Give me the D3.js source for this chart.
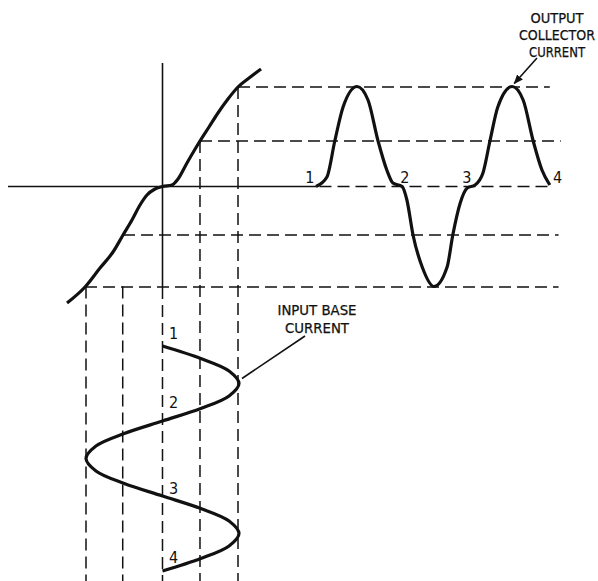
<!DOCTYPE html>
<html>
<head>
<meta charset="utf-8">
<script src="https://cdn.jsdelivr.net/npm/d3@7"></script>
<style>
  html, body { margin: 0; padding: 0; background: #fff; }
  svg text {
    font-family: "Liberation Sans Narrow", "DejaVu Sans Condensed", "Arial Narrow", sans-serif;
    font-size: 16px;
    fill: #111;
  }
  svg text.title { font-size: 14.5px; stroke: #111; stroke-width: 0.25px; }
</style>
</head>
<body>
<div id="chart"></div>
<script>
// transfer characteristic: base current (ib) -> collector current (ic)
var transferCurve = [
    [-1.248, -1.165], [-1.013, -1.005], [-0.817, -0.815], [-0.647, -0.655],
    [-0.516, -0.485], [-0.399, -0.335], [-0.294, -0.185], [-0.203, -0.085],
    [-0.098, -0.025], [0, 0], [0.124, 0.015], [0.203, 0.075],
    [0.32, 0.235], [0.49, 0.455], [0.608, 0.595], [0.725, 0.735],
    [0.856, 0.875], [0.987, 0.995], [1.131, 1.085], [1.288, 1.175]
];

// input base current, phase in degrees vs ib
var inputPhase = [0, 30, 60, 90, 120, 150, 180, 210, 240, 270, 300, 330, 360, 390, 420, 450, 480, 510, 540];
var inputBase  = [0, 0.5, 0.87, 1, 0.87, 0.5, 0, -0.5, -0.87, -1, -0.87, -0.5, 0, 0.5, 0.87, 1, 0.87, 0.5, 0];

// output collector current, phase in degrees vs ic
var outputPhase = [0, 25, 43, 62, 94, 119, 142, 162, 176, 197, 208, 222, 243, 270,
    300, 313, 330, 346, 364, 382, 398, 416, 449, 474, 497, 517, 535];
var outputCollector = [0, 0.095, 0.455, 0.795, 1.0, 0.865, 0.455, 0.165, 0.035, 0, -0.135, -0.485, -0.805, -1,
    -0.805, -0.485, -0.165, -0.015, 0.015, 0.135, 0.455, 0.795, 1.0, 0.865, 0.455, 0.165, 0.015];

// projection guides
var guideIb = [-1, -0.52, 0, 0.49, 0.987];       // vertical dashed lines
var guideIbTop = [-1, -1, -1, 0.455, 0.995];     // ic level where each starts
var guideIc = [0.995, 0.455, 0, -0.485, -1.005]; // horizontal dashed lines
var guideIcFrom = [0.987, 0.49, null, -0.516, -1.013]; // ib where each starts (null: output start)
var guideIcTo = [535, 560, 535, 555, 555];       // phase where each ends

var outputLabels = ['1', '2', '3', '4'];
var outputLabelPhase = [-14, 203, 345, 553];
var inputLabels = ['1', '2', '3', '4'];
var inputLabelPhase = [-31, 135, 340, 507];

var outTitleLines = ['OUTPUT', 'COLLECTOR', 'CURRENT'];
var outTitleWidths = [53, 76, 56];
var inTitleLines = ['INPUT BASE', 'CURRENT'];
var inTitleWidths = [79, 64];

var width = 598, height = 581;

var svg = d3.select('#chart')
    .append('svg')
    .attr('width', width)
    .attr('height', height);

svg.append('rect').attr('width', width).attr('height', height).attr('fill', '#fff');

var xB = d3.scaleLinear().domain([-1, 1]).range([86, 239]);
var yC = d3.scaleLinear().domain([-1, 1]).range([286.5, 86.5]);
var xT = d3.scaleLinear().domain([0, 540]).range([316, 552]);
var yT = d3.scaleLinear().domain([0, 540]).range([346, 571]);

var ink = '#111';

// dashed guides
var guides = svg.append('g')
    .attr('stroke', ink)
    .attr('stroke-width', 1.5)
    .attr('stroke-dasharray', '12,6')
    .attr('fill', 'none');

guideIb.forEach(function(ib, i) {
    guides.append('line')
        .attr('x1', xB(ib)).attr('x2', xB(ib))
        .attr('y1', ib === 0 ? yC(-1.005) : yC(guideIbTop[i]))
        .attr('y2', height);
});

guideIc.forEach(function(ic, i) {
    var from = guideIcFrom[i] === null ? xT(8) : xB(guideIcFrom[i]);
    guides.append('line')
        .attr('x1', from).attr('x2', xT(guideIcTo[i]))
        .attr('y1', yC(ic)).attr('y2', yC(ic));
});

// solid axes
svg.append('line')
    .attr('x1', 8).attr('x2', xT(0))
    .attr('y1', yC(0)).attr('y2', yC(0))
    .attr('stroke', ink).attr('stroke-width', 1.6);

svg.append('line')
    .attr('x1', xB(0)).attr('x2', xB(0))
    .attr('y1', 63).attr('y2', yC(-1.005))
    .attr('stroke', ink).attr('stroke-width', 1.6);

// curves
var transferLine = d3.line()
    .x(function(d) { return xB(d[0]); })
    .y(function(d) { return yC(d[1]); })
    .curve(d3.curveMonotoneX);

svg.append('path')
    .datum(transferCurve)
    .attr('d', transferLine)
    .attr('fill', 'none').attr('stroke', ink).attr('stroke-width', 3.2);

var inputLine = d3.line()
    .x(function(d, i) { return xB(inputBase[i]); })
    .y(function(d) { return yT(d); })
    .curve(d3.curveCatmullRom);

svg.append('path')
    .datum(inputPhase)
    .attr('d', inputLine)
    .attr('fill', 'none').attr('stroke', ink).attr('stroke-width', 3.2);

var outputLine = d3.line()
    .x(function(d) { return xT(d); })
    .y(function(d, i) { return yC(outputCollector[i]); })
    .curve(d3.curveMonotoneX);

svg.append('path')
    .datum(outputPhase)
    .attr('d', outputLine)
    .attr('fill', 'none').attr('stroke', ink).attr('stroke-width', 3.2);

// numbered points
svg.selectAll('.out-label')
    .data(outputLabels)
    .enter().append('text')
    .attr('x', function(d, i) { return xT(outputLabelPhase[i]); })
    .attr('y', yC(0) - 4)
    .attr('text-anchor', 'middle')
    .text(function(d) { return d; });

svg.selectAll('.in-label')
    .data(inputLabels)
    .enter().append('text')
    .attr('x', xB(0) + 11)
    .attr('y', function(d, i) { return yT(inputLabelPhase[i]) + 6; })
    .attr('text-anchor', 'middle')
    .text(function(d) { return d; });

// callouts
svg.selectAll('.out-title')
    .data(outTitleLines)
    .enter().append('text')
    .attr('class', 'title')
    .attr('x', 557)
    .attr('y', function(d, i) { return 23 + i * 17; })
    .attr('text-anchor', 'middle')
    .attr('textLength', function(d, i) { return outTitleWidths[i]; })
    .attr('lengthAdjust', 'spacingAndGlyphs')
    .text(function(d) { return d; });

svg.append('defs').append('marker')
    .attr('id', 'arrow')
    .attr('viewBox', '0 0 10 10')
    .attr('refX', 9).attr('refY', 5)
    .attr('markerWidth', 6).attr('markerHeight', 6)
    .attr('orient', 'auto')
    .append('path').attr('d', 'M0,1 L10,5 L0,9 Z').attr('fill', ink);

svg.append('line')
    .attr('x1', 537).attr('y1', 58)
    .attr('x2', xT(449) + 2).attr('y2', yC(1) - 3)
    .attr('stroke', ink).attr('stroke-width', 1.6)
    .attr('marker-end', 'url(#arrow)');

svg.selectAll('.in-title')
    .data(inTitleLines)
    .enter().append('text')
    .attr('class', 'title')
    .attr('x', 317)
    .attr('y', function(d, i) { return 315 + i * 18; })
    .attr('text-anchor', 'middle')
    .attr('textLength', function(d, i) { return inTitleWidths[i]; })
    .attr('lengthAdjust', 'spacingAndGlyphs')
    .text(function(d) { return d; });

svg.append('line')
    .attr('x1', 305).attr('y1', 336)
    .attr('x2', xB(1) + 3).attr('y2', yT(90) - 5)
    .attr('stroke', ink).attr('stroke-width', 1.6);
</script>
</body>
</html>
